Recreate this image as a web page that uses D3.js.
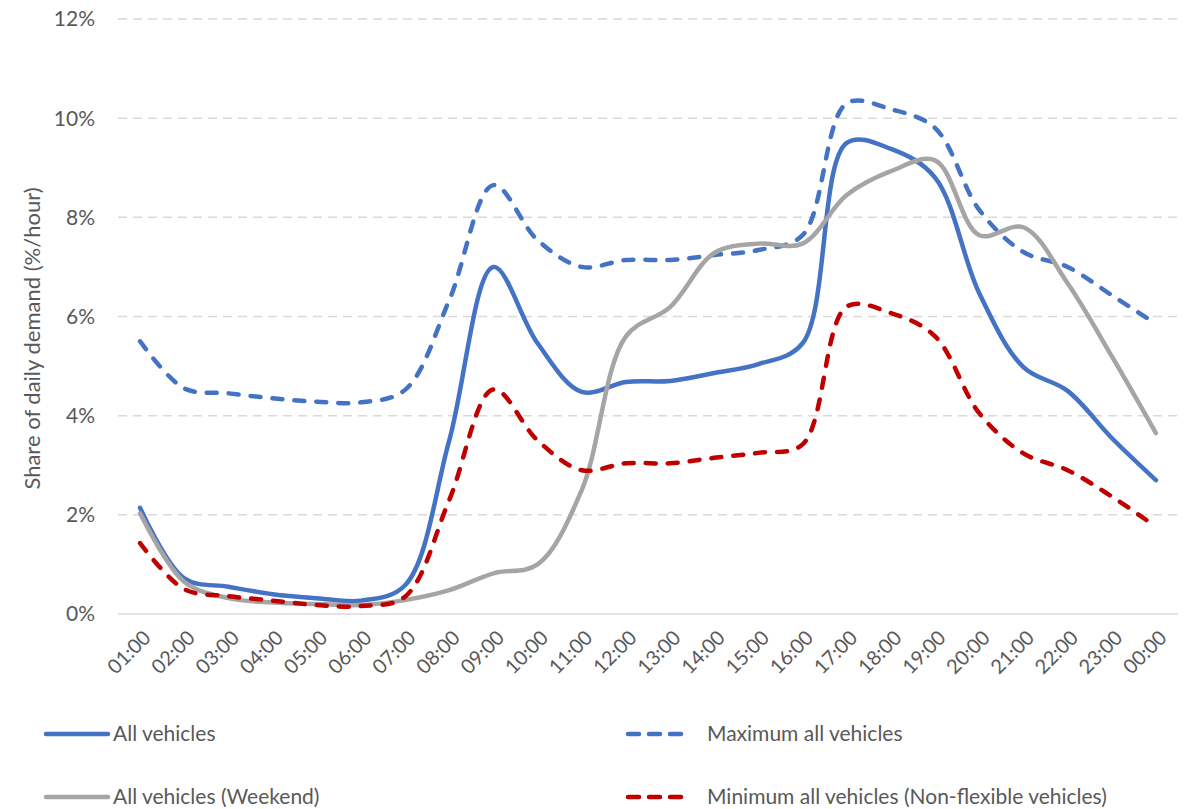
<!DOCTYPE html>
<html>
<head>
<meta charset="utf-8">
<script src="https://cdn.jsdelivr.net/npm/d3@7"></script>
<style>
  body { margin: 0; background: #fff; }
  svg text { font-family: Lato, "Open Sans", sans-serif; fill: #595959; }
</style>
</head>
<body>
<div id="chart"></div>
<script>
// hours along the x axis
var hours = ["01:00", "02:00", "03:00", "04:00", "05:00", "06:00", "07:00", "08:00",
    "09:00", "10:00", "11:00", "12:00", "13:00", "14:00", "15:00", "16:00",
    "17:00", "18:00", "19:00", "20:00", "21:00", "22:00", "23:00", "00:00"];

// share of daily demand, % per hour
var allVehicles = [2.14, 0.72, 0.55, 0.4, 0.32, 0.27, 0.58, 3.5, 7.0, 5.46, 4.48, 4.68,
    4.7, 4.86, 5.04, 5.46, 9.5, 9.38, 8.8, 6.47, 4.98, 4.5, 3.55, 2.7];
var maxAllVehicles = [5.5, 4.55, 4.45, 4.35, 4.28, 4.27, 4.52, 6.33, 8.65, 7.54, 7.0, 7.14,
    7.14, 7.24, 7.34, 7.64, 10.3, 10.18, 9.8, 8.15, 7.3, 7.0, 6.43, 5.85];
var weekend = [2.03, 0.65, 0.32, 0.23, 0.2, 0.18, 0.28, 0.48, 0.82, 1.0, 2.5, 5.6,
    6.19, 7.28, 7.47, 7.47, 8.45, 8.93, 9.15, 7.64, 7.8, 6.67, 5.2, 3.65];
var minAllVehicles = [1.43, 0.5, 0.36, 0.27, 0.18, 0.16, 0.35, 2.3, 4.53, 3.5, 2.9, 3.04,
    3.04, 3.15, 3.25, 3.42, 6.2, 6.07, 5.6, 4.05, 3.24, 2.9, 2.37, 1.76];

var yTicks = [0, 2, 4, 6, 8, 10, 12];

var series = [
    { name: "All vehicles", values: allVehicles, color: "#4472C4", dash: null },
    { name: "Maximum all vehicles", values: maxAllVehicles, color: "#4472C4", dash: "10,12" },
    { name: "All vehicles (Weekend)", values: weekend, color: "#A5A5A5", dash: null },
    { name: "Minimum all vehicles (Non-flexible vehicles)", values: minAllVehicles, color: "#C00000", dash: "10,12" }
];

var W = 1203, H = 809;
var plotLeft = 118, plotRight = 1178, plotTop = 19, plotBottom = 614;

var svg = d3.select("#chart").append("svg")
    .attr("width", W)
    .attr("height", H);

var xScale = d3.scalePoint()
    .domain(hours)
    .range([plotLeft, plotRight])
    .padding(0.5);

var yScale = d3.scaleLinear()
    .domain([0, 12])
    .range([plotBottom, plotTop]);

// gridlines
svg.append("g")
    .selectAll("line")
    .data(yTicks)
    .enter().append("line")
    .attr("x1", plotLeft)
    .attr("x2", plotRight)
    .attr("y1", function (d) { return yScale(d); })
    .attr("y2", function (d) { return yScale(d); })
    .attr("stroke", "#d9d9d9")
    .attr("stroke-width", 1.5)
    .attr("stroke-dasharray", function (d) { return d === 0 ? null : "9,6"; });

// y tick labels
svg.append("g")
    .selectAll("text")
    .data(yTicks)
    .enter().append("text")
    .attr("x", 95)
    .attr("y", function (d) { return yScale(d); })
    .attr("dy", "0.35em")
    .attr("text-anchor", "end")
    .style("font-size", "21px")
    .text(function (d) { return d + "%"; });

// y axis title
svg.append("text")
    .attr("transform", "translate(40," + ((plotTop + plotBottom) / 2 + 22) + ") rotate(-90)")
    .attr("text-anchor", "middle")
    .style("font-size", "22px")
    .text("Share of daily demand (%/hour)");

// x tick labels, rotated
svg.append("g")
    .selectAll("text")
    .data(hours)
    .enter().append("text")
    .attr("transform", function (d) {
        return "translate(" + (xScale(d) + 7) + ",634) rotate(-45)";
    })
    .attr("text-anchor", "end")
    .attr("dy", "0.35em")
    .style("font-size", "20px")
    .text(function (d) { return d; });

var line = d3.line()
    .x(function (d, i) { return xScale(hours[i]); })
    .y(function (d) { return yScale(d); })
    .curve(d3.curveCatmullRom.alpha(0.5));

svg.append("g")
    .selectAll("path")
    .data(series)
    .enter().append("path")
    .attr("d", function (s) { return line(s.values); })
    .attr("fill", "none")
    .attr("stroke", function (s) { return s.color; })
    .attr("stroke-width", 4.5)
    .attr("stroke-linecap", "round")
    .attr("stroke-linejoin", "round")
    .attr("stroke-dasharray", function (s) { return s.dash; });

// legend
var legendPos = [
    { x: 46, y: 734, len: 62, tx: 113 },
    { x: 628, y: 734, len: 54, tx: 707 },
    { x: 46, y: 797, len: 62, tx: 113 },
    { x: 628, y: 797, len: 54, tx: 707 }
];

var legend = svg.append("g")
    .selectAll("g")
    .data(series)
    .enter().append("g");

legend.append("line")
    .attr("x1", function (s, i) { return legendPos[i].x; })
    .attr("x2", function (s, i) { return legendPos[i].x + legendPos[i].len; })
    .attr("y1", function (s, i) { return legendPos[i].y; })
    .attr("y2", function (s, i) { return legendPos[i].y; })
    .attr("stroke", function (s) { return s.color; })
    .attr("stroke-width", 4.5)
    .attr("stroke-linecap", "round")
    .attr("stroke-dasharray", function (s) { return s.dash ? "11,10" : null; });

legend.append("text")
    .attr("x", function (s, i) { return legendPos[i].tx; })
    .attr("y", function (s, i) { return legendPos[i].y; })
    .attr("dy", "0.35em")
    .style("font-size", "21px")
    .text(function (s) { return s.name; });
</script>
</body>
</html>
